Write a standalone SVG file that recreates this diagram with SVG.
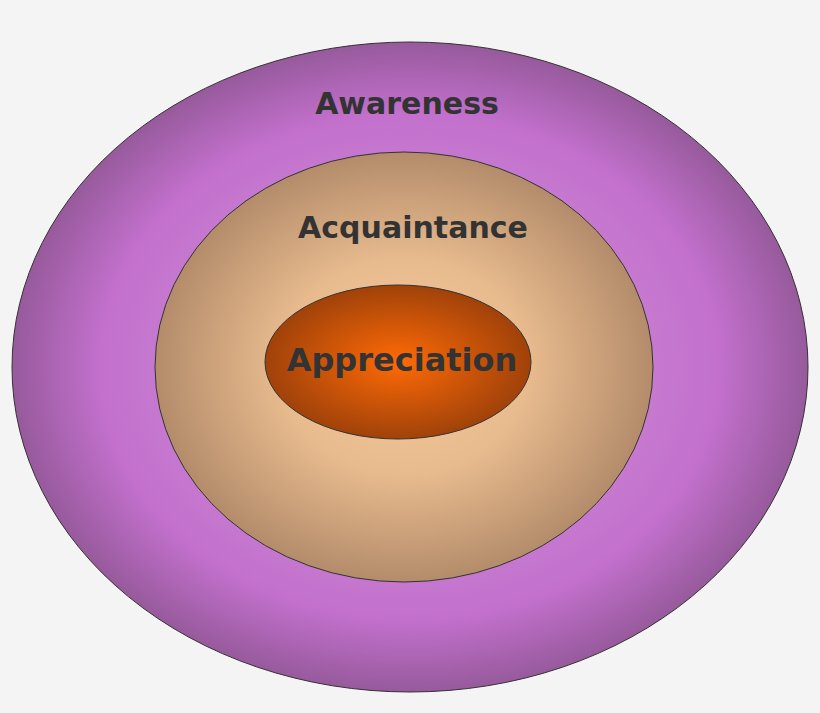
<svg xmlns="http://www.w3.org/2000/svg" width="820" height="713" viewBox="0 0 820 713">
<defs>
<radialGradient id="gOuter" cx="0.5" cy="0.5" r="0.5">
<stop offset="0.6" stop-color="#c77ad0"/><stop offset="0.78" stop-color="#c270cc"/><stop offset="1" stop-color="#975a9c"/>
</radialGradient>
<radialGradient id="gMid" cx="0.5" cy="0.5" r="0.5">
<stop offset="0" stop-color="#f6c89a"/><stop offset="0.5" stop-color="#e8bb8e"/><stop offset="1" stop-color="#b48c6b"/>
</radialGradient>
<radialGradient id="gIn" cx="0.5" cy="0.5" r="0.5">
<stop offset="0" stop-color="#ff6a06"/><stop offset="1" stop-color="#a0420a"/>
</radialGradient>
<style>
.ring{stroke:#333;stroke-width:1}
.lbl{font-family:"DejaVu Sans",sans-serif;font-weight:bold;fill:#333;text-anchor:middle}
</style>
</defs>
<rect width="820" height="713" fill="#f4f4f4"/>
<g id="awareness">
<ellipse class="ring" cx="410" cy="367" rx="398" ry="325" fill="url(#gOuter)"/>
<text class="lbl" x="407" y="114" font-size="30">Awareness</text>
</g>
<g id="acquaintance">
<ellipse class="ring" cx="404" cy="367" rx="249" ry="215" fill="url(#gMid)"/>
<text class="lbl" x="413" y="238" font-size="30">Acquaintance</text>
</g>
<g id="appreciation">
<ellipse class="ring" cx="398" cy="362" rx="133" ry="77" fill="url(#gIn)"/>
<text class="lbl" x="402" y="371" font-size="32">Appreciation</text>
</g>
<g id="connectors"/>
</svg>
